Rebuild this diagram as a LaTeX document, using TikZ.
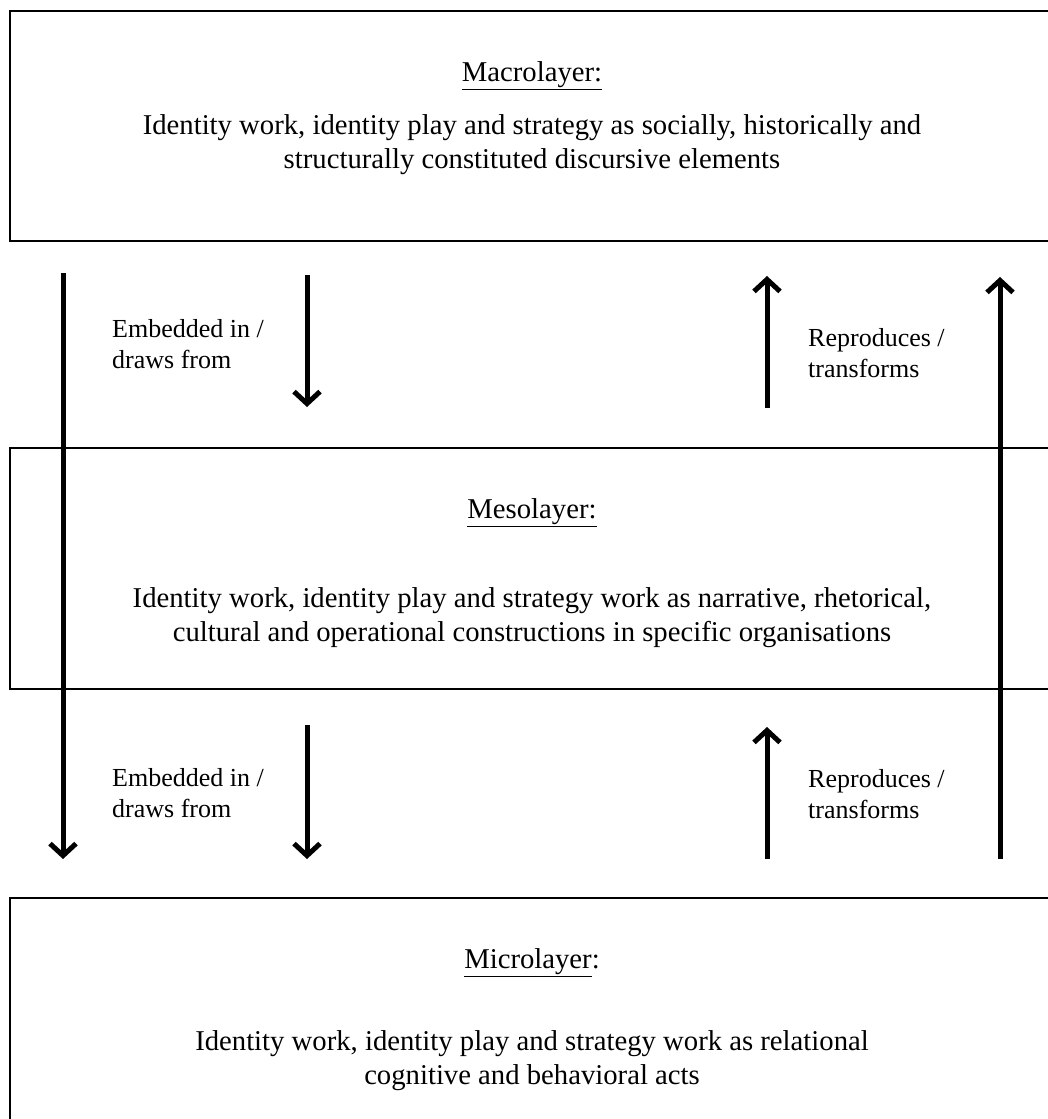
\documentclass[tikz,border=0pt]{standalone}
\usepackage{fontspec}
\setmainfont{Liberation Serif}
\usetikzlibrary{arrows.meta}
\begin{document}
\begin{tikzpicture}[x=1pt,y=-1pt,
  layerbox/.style={draw=black,line width=2.4pt},
  headtext/.style={inner sep=0pt,font=\fontsize{28.7}{33}\selectfont},
  bodytext/.style={inner sep=0pt,align=center,font=\fontsize{28.7}{34}\selectfont},
  sidetext/.style={inner sep=0pt,align=left,anchor=north west,font=\fontsize{26}{31}\selectfont},
  flow/.style={line width=5pt,-{Straight Barb[length=12pt,width=26pt]}}]
\useasboundingbox (0,0) rectangle (1048,1119);
\clip (0,0) rectangle (1048,1119);
\fill[white] (0,0) rectangle (1048,1119);

% three layers
\draw[layerbox] (10,11) rectangle (1056,241);
\draw[layerbox] (10,448) rectangle (1056,689);
\draw[layerbox] (10,898) rectangle (1056,1140);

\node[headtext] (macroT) at (532,76) {\underline{Macrolayer:}};
\node[bodytext] (macroB) at (532,145) {Identity work, identity play and strategy as socially, historically and\\structurally constituted discursive elements};

\node[headtext] (mesoT) at (532,513) {\underline{Mesolayer:}};
\node[bodytext] (mesoB) at (532,618) {Identity work, identity play and strategy work as narrative, rhetorical,\\cultural and operational constructions in specific organisations};

\node[headtext] (microT) at (532,963) {\underline{Microlayer}:};
\node[bodytext] (microB) at (532,1061) {Identity work, identity play and strategy work as relational\\cognitive and behavioral acts};

% arrow end points
\coordinate (lTop) at (63,273);
\coordinate (lBot) at (63,859);
\coordinate (rTop) at (1000,277);
\coordinate (rBot) at (1000,859);
\coordinate (d1s) at (307,275);
\coordinate (d1e) at (307,407);
\coordinate (d2s) at (307,725);
\coordinate (d2e) at (307,859);
\coordinate (u1s) at (767,408);
\coordinate (u1e) at (767,276);
\coordinate (u2s) at (767,859);
\coordinate (u2e) at (767,727);

\draw[flow] (lTop) -- (lBot);
\draw[flow] (rBot) -- (rTop);
\draw[flow] (d1s) -- (d1e);
\draw[flow] (d2s) -- (d2e);
\draw[flow] (u1s) -- (u1e);
\draw[flow] (u2s) -- (u2e);

% arrow labels
\node[sidetext] (emb1) at (112,319) {Embedded in /\\draws from};
\node[sidetext] (emb2) at (112,768) {Embedded in /\\draws from};
\node[sidetext] (rep1) at (808,328) {Reproduces /\\transforms};
\node[sidetext] (rep2) at (808,769) {Reproduces /\\transforms};
\end{tikzpicture}
\end{document}
